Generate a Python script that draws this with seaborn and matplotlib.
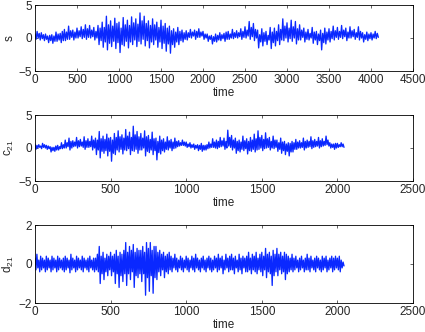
import numpy as np
import pandas as pd
import matplotlib
matplotlib.use("Agg")
import matplotlib.pyplot as plt
import seaborn as sns

# ---- data: upper / lower excursion of the trace per bin ----
s_step = 25
s_hi = [0.6, 1.0, 0.7, 0.8, 0.5, 0.6, 0.3, 0.4,
        0.5, 0.3, 0.9, 0.6, 0.7, 1.0, 1.3, 0.9,
        1.8, 1.1, 1.2, 0.9, 1.5, 1.1, 1.7, 1.3,
        2.0, 1.4, 1.9, 1.2, 1.6, 1.0, 1.9, 1.5,
        2.4, 1.6, 3.3, 2.0, 2.6, 1.8, 3.0, 2.2,
        2.4, 1.5, 3.1, 2.0, 2.7, 1.9, 3.2, 2.3,
        2.9, 2.1, 3.8, 2.6, 3.3, 2.2, 2.6, 1.9,
        2.9, 2.0, 2.4, 1.6, 2.7, 1.8, 2.2, 1.5,
        1.8, 1.1, 1.4, 0.9, 1.6, 1.0, 1.2, 0.8,
        1.1, 0.8, 1.3, 0.9, 1.2, 1.0, 1.4, 0.9,
        1.0, 0.6, 0.6, 0.3, 0.4, 0.2, 0.6, 0.4,
        0.8, 0.5, 0.7, 0.9, 1.0, 0.6, 1.3, 0.8,
        1.1, 0.8, 1.4, 1.0, 1.7, 1.2, 2.5, 1.6,
        2.2, 1.3, 1.2, 0.5, 1.4, 0.8, 1.0, 0.4,
        1.6, 0.9, 1.5, 1.0, 2.0, 1.3, 2.9, 1.8,
        2.3, 1.5, 2.7, 1.7, 2.5, 1.4, 2.0, 1.2,
        1.5, 0.9, 1.3, 0.7, 1.6, 0.9, 1.0, 0.6,
        1.2, 0.7, 1.5, 0.9, 1.4, 1.0, 1.8, 1.1,
        1.6, 1.0, 1.9, 1.2, 1.5, 0.9, 1.7, 1.1,
        1.3, 0.8, 1.7, 1.0, 0.8, 0.5, 0.9, 0.6,
        0.8, 0.6, 1.0, 0.7]
s_lo = [-0.2, 0.0, -0.3, -0.1, -0.4, -0.2, -0.7, -0.4,
        -0.8, -0.5, -0.5, -0.3, -0.7, -0.4, -0.4, -0.2,
        -0.2, 0.1, -0.3, 0.0, 0.0, 0.2, -0.1, 0.1,
        -0.2, 0.1, 0.0, 0.2, -0.3, 0.0, -1.0, -0.4,
        -1.4, -0.6, -1.8, -0.8, -1.3, -0.5, -1.6, -0.7,
        -2.2, -1.0, -1.2, -0.5, -1.5, -0.6, -1.0, -0.3,
        -1.3, -0.5, -0.9, -0.2, -1.2, -0.4, -1.5, -0.6,
        -1.0, -0.3, -1.4, -0.6, -1.6, -0.8, -2.0, -0.9,
        -2.3, -1.0, -1.4, -0.6, -1.0, -0.4, -0.6, -0.2,
        -0.3, 0.1, 0.0, 0.3, -0.2, 0.1, 0.1, 0.3,
        -0.2, 0.0, -0.5, -0.2, -0.9, -0.5, -0.6, -0.3,
        -0.4, -0.1, -0.5, -0.2, -0.2, 0.0, -0.1, 0.1,
        0.0, 0.2, -0.2, 0.1, 0.0, 0.3, -0.2, 0.2,
        -0.4, 0.0, -1.5, -0.6, -1.2, -0.5, -1.0, -0.3,
        -1.6, -0.7, -1.2, -0.4, -1.0, -0.3, -0.4, 0.0,
        -0.6, -0.1, -0.5, 0.0, -0.9, -0.3, -0.3, 0.1,
        -0.6, -0.2, -0.3, 0.0, -0.8, -0.3, -1.0, -0.4,
        -1.8, -0.7, -0.9, -0.3, -0.6, -0.1, -0.3, 0.1,
        -0.2, 0.1, -0.1, 0.2, -0.4, 0.0, 0.0, 0.2,
        -0.2, 0.1, -0.3, 0.0, -0.6, -0.2, -0.4, -0.1,
        -0.3, 0.0, -0.1, 0.1]

c_step = 12.5
c_hi = [0.6, 0.4, 0.5, 0.3, 0.7, 0.5, 0.4, 0.3,
        0.2, 0.1, 0.1, 0.3, 0.4, 0.2, 0.8, 0.5,
        1.2, 0.8, 1.5, 1.0, 1.1, 0.9, 1.6, 1.1,
        1.3, 0.9, 1.7, 1.1, 1.4, 1.0, 1.8, 1.2,
        1.5, 1.2, 2.5, 1.4, 1.8, 1.3, 2.1, 1.5,
        1.6, 1.2, 2.2, 1.6, 2.6, 1.7, 2.0, 1.5,
        2.8, 1.8, 2.4, 1.6, 3.3, 2.0, 2.5, 1.7,
        2.2, 1.5, 2.6, 1.7, 1.9, 1.3, 2.4, 1.4,
        1.5, 1.0, 1.8, 1.2, 1.4, 0.9, 1.7, 1.1,
        1.3, 0.9, 1.5, 1.0, 1.1, 0.8, 1.2, 0.9,
        0.9, 0.6, 0.8, 0.5, 0.6, 0.4, 0.5, 0.4,
        0.7, 0.4, 0.4, 0.5, 0.9, 0.6, 1.4, 0.9,
        1.2, 1.0, 1.6, 1.1, 1.5, 1.0, 2.7, 1.6,
        1.9, 1.2, 1.5, 1.0, 1.2, 0.9, 1.8, 1.1,
        1.4, 1.0, 1.6, 1.2, 2.1, 1.4, 2.6, 1.6,
        1.9, 1.3, 2.3, 1.4, 1.6, 1.0, 1.8, 1.2,
        1.2, 0.8, 1.5, 0.9, 1.0, 0.6, 0.8, 0.7,
        1.0, 0.8, 1.3, 0.9, 1.1, 0.8, 1.5, 1.0,
        1.2, 1.0, 1.7, 1.1, 1.3, 1.0, 1.6, 1.1,
        1.4, 1.0, 1.8, 1.2, 0.8, 0.6, 0.6, 0.7,
        0.7, 0.5, 0.8, 0.6]
c_lo = [-0.2, 0.0, 0.1, -0.1, 0.1, 0.0, -0.2, -0.1,
        -0.6, -0.4, -0.5, -0.3, -0.3, -0.1, -0.1, 0.0,
        0.0, 0.2, -0.3, 0.0, 0.2, 0.3, 0.0, 0.2,
        0.3, 0.1, -0.2, 0.1, 0.1, 0.2, -0.3, 0.0,
        -1.0, -0.3, -1.5, -0.5, -0.8, -0.4, -1.2, -0.5,
        -2.0, -0.8, -1.0, -0.3, -0.6, -0.2, -0.9, -0.3,
        -0.4, -0.1, -1.0, -0.4, -0.5, -0.2, -0.8, -0.3,
        -0.3, 0.0, -1.2, -0.5, -0.7, -0.3, -1.0, -0.4,
        -1.8, -0.7, -0.9, -0.4, -0.6, -0.2, -0.3, 0.0,
        -0.4, -0.1, 0.0, 0.2, 0.3, 0.4, 0.4, 0.3,
        0.1, 0.2, 0.0, 0.1, -0.2, 0.0, -0.4, -0.2,
        -0.5, -0.3, -0.3, -0.1, 0.0, 0.1, 0.1, 0.0,
        -0.1, 0.1, 0.2, 0.3, -0.2, 0.0, 0.3, 0.1,
        -0.3, 0.0, -0.8, -0.4, -0.6, -0.2, -0.4, -0.1,
        -0.9, -0.4, -0.5, -0.2, -0.6, -0.3, -0.2, 0.0,
        -0.4, -0.1, 0.0, 0.1, -0.3, 0.0, -0.1, 0.1,
        -0.5, -0.2, -0.8, -0.4, -1.0, -0.5, -1.2, -0.6,
        -0.6, -0.2, -0.2, 0.0, 0.0, 0.1, -0.3, 0.0,
        0.1, 0.2, -0.1, 0.1, 0.2, 0.3, 0.0, 0.2,
        0.3, 0.4, 0.5, 0.3, 0.0, 0.1, -0.2, 0.0,
        0.1, 0.2, 0.2, 0.1]

d_step = 12.5
d_hi = [0.3, 0.5, 0.2, 0.4, 0.3, 0.2, 0.4, 0.3,
        0.2, 0.4, 0.3, 0.2, 0.4, 0.3, 0.2, 0.3,
        0.4, 0.3, 0.2, 0.5, 0.3, 0.2, 0.4, 0.3,
        0.2, 0.4, 0.3, 0.2, 0.3, 0.4, 0.2, 0.3,
        0.3, 0.5, 0.9, 0.4, 0.6, 0.3, 0.5, 0.4,
        0.6, 0.4, 0.5, 0.7, 0.4, 0.6, 0.5, 0.7,
        1.1, 0.6, 0.9, 0.7, 1.0, 0.6, 0.8, 0.7,
        0.7, 0.9, 0.6, 1.1, 0.8, 1.1, 0.7, 0.9,
        0.9, 0.6, 0.7, 0.5, 0.6, 0.4, 0.5, 0.6,
        0.4, 0.3, 0.5, 0.3, 0.2, 0.4, 0.3, 0.2,
        0.4, 0.3, 0.2, 0.4, 0.3, 0.5, 0.3, 0.2,
        0.3, 0.4, 0.2, 0.3, 0.4, 0.3, 0.2, 0.4,
        0.3, 0.5, 0.3, 0.4, 0.2, 0.5, 0.3, 0.4,
        0.5, 0.3, 0.4, 0.2, 0.5, 0.3, 0.4, 0.3,
        0.4, 0.6, 0.3, 0.5, 0.4, 0.6, 0.3, 0.5,
        0.6, 0.4, 0.8, 0.5, 0.6, 0.4, 0.7, 0.5,
        0.8, 0.5, 0.6, 0.4, 0.6, 0.5, 0.4, 0.3,
        0.5, 0.3, 0.4, 0.2, 0.3, 0.4, 0.2, 0.3,
        0.5, 0.3, 0.4, 0.2, 0.3, 0.4, 0.3, 0.2,
        0.4, 0.3, 0.4, 0.2, 0.3, 0.4, 0.3, 0.4,
        0.3, 0.4, 0.2, 0.1]
d_lo = [-0.3, -0.2, -0.4, -0.3, -0.2, -0.4, -0.3, -0.2,
        -0.4, -0.3, -0.2, -0.4, -0.3, -0.2, -0.3, -0.4,
        -0.3, -0.2, -0.45, -0.3, -0.2, -0.4, -0.3, -0.2,
        -0.3, -0.4, -0.2, -0.3, -0.4, -0.2, -0.3, -0.4,
        -0.3, -0.4, -1.0, -0.5, -0.8, -0.4, -0.6, -0.3,
        -0.6, -0.4, -1.0, -0.5, -1.2, -0.6, -0.9, -0.5,
        -1.1, -0.5, -0.8, -0.4, -1.2, -0.6, -0.7, -0.5,
        -0.9, -0.5, -1.6, -0.7, -1.4, -0.6, -1.5, -0.7,
        -0.8, -0.4, -0.6, -0.3, -0.7, -0.4, -0.5, -0.3,
        -0.4, -0.2, -0.3, -0.4, -0.2, -0.3, -0.4, -0.2,
        -0.3, -0.4, -0.2, -0.3, -0.4, -0.2, -0.3, -0.4,
        -0.2, -0.3, -0.4, -0.2, -0.3, -0.4, -0.3, -0.2,
        -0.4, -0.3, -0.2, -0.5, -0.3, -0.2, -0.4, -0.3,
        -0.3, -0.5, -0.2, -0.4, -0.3, -0.5, -0.2, -0.4,
        -0.4, -0.3, -0.5, -0.3, -0.4, -0.5, -0.3, -0.4,
        -0.6, -0.3, -0.7, -0.4, -0.5, -1.1, -0.6, -0.4,
        -0.6, -0.3, -0.5, -0.4, -0.8, -0.5, -0.4, -0.3,
        -0.4, -0.3, -0.2, -0.4, -0.3, -0.2, -0.4, -0.3,
        -0.3, -0.4, -0.2, -0.3, -0.4, -0.2, -0.3, -0.4,
        -0.3, -0.2, -0.4, -0.3, -0.2, -0.4, -0.3, -0.2,
        -0.3, -0.4, -0.2, -0.1]

ylabels = ["s", "$c_{21}$", "$d_{21}$"]
xlabel = "time"
xlims = [4500, 2500, 2500]
yticks = [[-5, 0, 5], [-5, 0, 5], [-2, 0, 2]]
xticks = [list(range(0, 4501, 500)), list(range(0, 2501, 500)), list(range(0, 2501, 500))]


def zigzag(hi, lo, step):
    t, v = [], []
    for i, (h, l) in enumerate(zip(hi, lo)):
        t += [i * step, i * step + step / 2]
        v += [h, l]
    return pd.DataFrame({"time": t, "value": v})


sns.set_style("white")
plt.rcParams["font.family"] = ["Liberation Sans", "DejaVu Sans"]
plt.rcParams["mathtext.default"] = "regular"

fig = plt.figure(figsize=(4.25, 3.32), dpi=100)
W, H = 425, 332
boxes = [(35, 5, 413, 71), (35, 115, 413, 181), (35, 225, 413, 303)]
series = [zigzag(s_hi, s_lo, s_step), zigzag(c_hi, c_lo, c_step), zigzag(d_hi, d_lo, d_step)]

for k in range(3):
    x0, y0, x1, y1 = boxes[k]
    ax = fig.add_axes([x0 / W, 1 - y1 / H, (x1 - x0) / W, (y1 - y0) / H])
    sns.lineplot(data=series[k], x="time", y="value", ax=ax, sort=False,
                 estimator=None, color="#0a28ff", linewidth=0.95)
    ax.set_xlim(0, xlims[k])
    ax.set_ylim(yticks[k][0], yticks[k][-1])
    ax.set_xticks(xticks[k])
    ax.set_yticks(yticks[k])
    ax.set_xlabel(xlabel, fontsize=8.5, labelpad=1)
    ax.set_ylabel(ylabels[k], fontsize=8.5, labelpad=2)
    ax.tick_params(direction="in", length=2.5, width=0.5, labelsize=8.5, pad=2,
                   top=True, right=True, bottom=True, left=True)
    for sp in ax.spines.values():
        sp.set_linewidth(0.6)
        sp.set_color("black")
        sp.set_visible(True)

fig.savefig("out.png", dpi=100, facecolor="white")
